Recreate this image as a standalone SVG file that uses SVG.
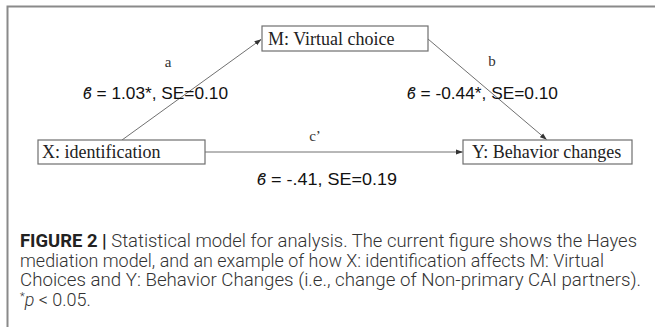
<svg xmlns="http://www.w3.org/2000/svg" width="655" height="327" viewBox="0 0 655 327">
  <style>
    .frame { stroke: #8a8a8a; stroke-width: 2; fill: none; }
    .box { fill: #ffffff; stroke: #6f6f6f; stroke-width: 1.2; }
    .node-text { font-family: "Liberation Serif", "Times New Roman", serif; font-size: 18px; fill: #222; }
    .path-label { font-family: "Liberation Serif", "Times New Roman", serif; font-size: 15px; fill: #333; }
    .coef { font-family: "Liberation Sans", Arial, sans-serif; font-size: 16.5px; fill: #111; }
    .edge { stroke: #707070; stroke-width: 1; fill: none; }
    .caption { font-family: Roboto, "Liberation Sans", Arial, sans-serif; font-size: 18px; font-weight: 300; fill: #333; }
    .caption-bold { font-weight: 700; fill: #222; }
  </style>
  <defs>
    <marker id="arrow" markerWidth="7" markerHeight="6" refX="6.5" refY="3" orient="auto" markerUnits="userSpaceOnUse">
      <path d="M0,0.5 L7,3 L0,5.5 Z" fill="#333"/>
    </marker>
  </defs>

  <!-- figure frame: top rule and left rule -->
  <path class="frame" d="M7.5,327 V6.5 H655"/>

  <!-- connectors -->
  <g id="connectors">
    <line id="edge-a" class="edge" x1="122" y1="140" x2="261" y2="39.5" marker-end="url(#arrow)"/>
    <line id="edge-b" class="edge" x1="428" y1="39" x2="546.5" y2="139.5" marker-end="url(#arrow)"/>
    <line id="edge-c" class="edge" x1="205" y1="152" x2="462.5" y2="152" marker-end="url(#arrow)"/>
    <text class="path-label" x="168" y="67" text-anchor="middle">a</text>
    <text class="path-label" x="492" y="66" text-anchor="middle">b</text>
    <text class="path-label" x="315" y="141" text-anchor="middle">c’</text>
    <text class="coef" x="83" y="99" textLength="145" lengthAdjust="spacingAndGlyphs"><tspan font-style="italic">ϐ</tspan> = 1.03*, SE=0.10</text>
    <text class="coef" x="407" y="99" textLength="151" lengthAdjust="spacingAndGlyphs"><tspan font-style="italic">ϐ</tspan> = -0.44*, SE=0.10</text>
    <text class="coef" x="257" y="185" textLength="140" lengthAdjust="spacingAndGlyphs"><tspan font-style="italic">ϐ</tspan> = -.41, SE=0.19</text>
  </g>

  <!-- mediator -->
  <g id="node-m">
    <rect class="box" x="262" y="26" width="166" height="25"/>
    <text class="node-text" x="268" y="44.5">M: Virtual choice</text>
  </g>

  <!-- predictor -->
  <g id="node-x">
    <rect class="box" x="38" y="140" width="167" height="24"/>
    <text class="node-text" x="42" y="157.5">X: identification</text>
  </g>

  <!-- outcome -->
  <g id="node-y">
    <rect class="box" x="463" y="140" width="169" height="24"/>
    <text class="node-text" x="472" y="157.5">Y: Behavior changes</text>
  </g>

  <!-- caption -->
  <g id="caption">
    <text class="caption" x="20" y="247" textLength="617" lengthAdjust="spacingAndGlyphs"><tspan class="caption-bold">FIGURE 2 |</tspan> Statistical model for analysis. The current figure shows the Hayes</text>
    <text class="caption" x="20" y="266.5" textLength="584" lengthAdjust="spacingAndGlyphs">mediation model, and an example of how X: identification affects M: Virtual</text>
    <text class="caption" x="20" y="286" textLength="621" lengthAdjust="spacingAndGlyphs">Choices and Y: Behavior Changes (i.e., change of Non-primary CAI partners).</text>
    <text class="caption" x="20" y="305.5"><tspan baseline-shift="super" font-size="11px">*</tspan><tspan font-style="italic">p</tspan> &lt; 0.05.</text>
  </g>
</svg>
